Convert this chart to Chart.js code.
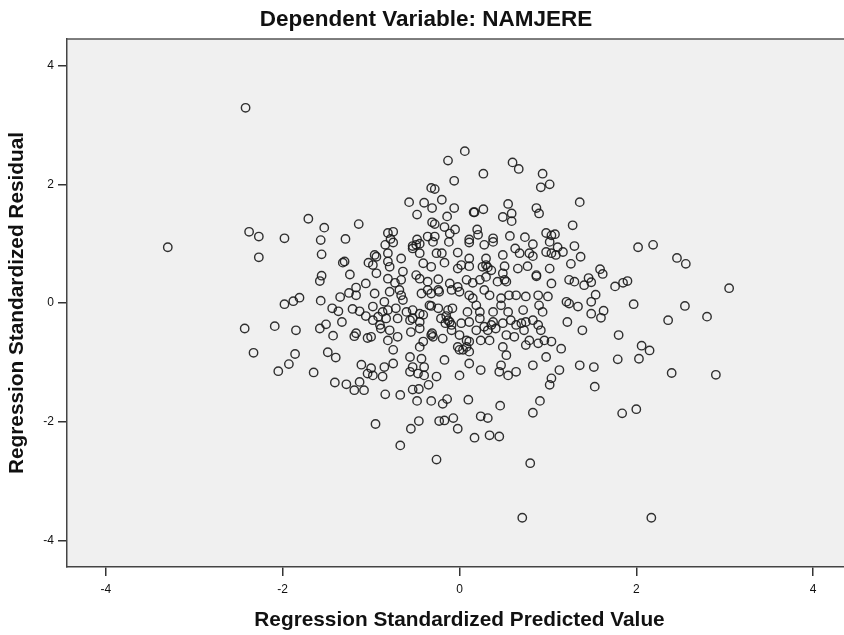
<!DOCTYPE html>
<html>
<head>
<meta charset="utf-8">
<script src="https://cdn.jsdelivr.net/npm/chart.js@4.4.1/dist/chart.umd.min.js"></script>
<style>
  html, body { margin: 0; padding: 0; background: #fff; overflow: hidden; }
  #wrap { width: 852px; height: 635px; }
</style>
</head>
<body>
<div id="wrap"><canvas id="scatter" width="852" height="635"></canvas></div>
<script>
// ============================== DATA ==============================
const chartTitle = "Dependent Variable: NAMJERE";
const xAxisLabel = "Regression Standardized Predicted Value";
const yAxisLabel = "Regression Standardized Residual";
const xTicks = [-4, -2, 0, 2, 4];
const yTicks = [-4, -2, 0, 2, 4];
const xRange = [-4.44, 4.44];
const yRange = [-4.45, 4.45];

// [standardized predicted, standardized residual]
const upperCases = [
    [-2.42, 3.29], [-1.71, 1.42], [-1.53, 1.27], [-1.14, 1.33], [-2.38, 1.20], [-2.27, 1.12],
    [-1.98, 1.09], [-1.57, 1.06], [-1.29, 1.08],
    [0.06, 2.56], [-0.13, 2.40], [0.60, 2.37], [0.67, 2.26], [0.27, 2.18], [0.94, 2.18],
    [1.02, 2.00], [0.92, 1.95], [-0.06, 2.06], [-0.32, 1.94], [-0.28, 1.92], [-0.20, 1.74],
    [-0.57, 1.70], [-0.40, 1.69], [-0.31, 1.60], [-0.06, 1.60], [-0.48, 1.49], [-0.14, 1.46],
    [0.16, 1.53], [0.17, 1.53], [0.27, 1.58], [0.55, 1.67], [0.59, 1.51], [0.49, 1.45],
    [0.59, 1.38], [0.87, 1.60], [0.90, 1.51], [1.36, 1.70], [1.28, 1.31], [-0.31, 1.36],
    [-0.28, 1.33], [-0.17, 1.28], [-0.05, 1.24], [-0.81, 1.18], [-0.75, 1.20], [0.20, 1.24],
    [0.98, 1.18], [1.04, 1.14], [1.08, 1.16], [-0.36, 1.12], [-0.28, 1.12], [-0.11, 1.17],
    [0.21, 1.15], [-0.48, 1.07], [0.11, 1.07], [0.38, 1.09], [0.57, 1.13], [0.74, 1.11],
    [-0.78, 1.08]
];

const leftCases = [
    [-3.30, 0.94], [-2.27, 0.77], [-1.56, 0.82], [-1.32, 0.68], [-1.30, 0.70], [-1.03, 0.68],
    [-1.24, 0.48], [-1.56, 0.46], [-1.58, 0.37], [-1.06, 0.33], [-1.17, 0.26], [-1.25, 0.17],
    [-1.17, 0.13], [-1.35, 0.10], [-1.81, 0.09], [-1.88, 0.03], [-1.98, -0.02], [-1.57, 0.04],
    [-1.44, -0.09], [-1.37, -0.14], [-1.21, -0.10], [-1.13, -0.14], [-1.06, -0.22], [-1.33, -0.32],
    [-1.51, -0.36], [-1.58, -0.43], [-2.43, -0.43], [-2.09, -0.39], [-1.85, -0.46], [-1.43, -0.55],
    [-1.19, -0.56], [-1.17, -0.51], [-1.04, -0.59], [-2.33, -0.84], [-1.86, -0.86], [-1.49, -0.83],
    [-1.40, -0.92], [-1.93, -1.03], [-2.05, -1.15], [-1.65, -1.17], [-1.11, -1.04], [-1.04, -1.19],
    [-1.41, -1.34], [-1.28, -1.37], [-1.13, -1.33], [-1.19, -1.47], [-1.08, -1.47]
];

const centralCases = [
    [-0.84, 0.98], [-0.75, 1.02], [-0.53, 0.96], [-0.49, 0.98], [-0.45, 1.00], [-0.30, 1.03],
    [-0.12, 1.03], [0.11, 1.02], [0.28, 0.98], [0.38, 1.03], [0.63, 0.92], [0.83, 0.99],
    [1.02, 1.03], [1.11, 0.94], [1.30, 0.96], [-0.53, 0.92],
    [-0.94, 0.78], [-0.81, 0.84], [-0.66, 0.75], [-0.45, 0.84], [-0.26, 0.84], [-0.20, 0.84],
    [-0.02, 0.85], [0.11, 0.75], [0.30, 0.75], [0.49, 0.81], [0.79, 0.84], [0.83, 0.79],
    [0.98, 0.86], [1.04, 0.84], [1.17, 0.86], [1.37, 0.78], [-0.96, 0.81], [0.68, 0.84],
    [1.09, 0.81],
    [-0.98, 0.64], [-0.81, 0.70], [-0.79, 0.61], [-0.64, 0.53], [-0.41, 0.67], [-0.32, 0.61],
    [-0.17, 0.68], [-0.02, 0.58], [0.02, 0.64], [0.11, 0.62], [0.26, 0.61], [0.32, 0.60],
    [0.36, 0.55], [0.51, 0.62], [0.66, 0.58], [0.77, 0.62], [1.02, 0.58], [1.26, 0.66],
    [0.30, 0.64],
    [-0.94, 0.50], [-0.81, 0.41], [-0.73, 0.34], [-0.66, 0.39], [-0.49, 0.47], [-0.45, 0.41],
    [-0.36, 0.36], [-0.24, 0.40], [-0.11, 0.33], [-0.02, 0.27], [0.08, 0.39], [0.15, 0.34],
    [0.23, 0.39], [0.30, 0.44], [0.43, 0.36], [0.53, 0.36], [0.49, 0.50], [0.87, 0.47],
    [1.04, 0.33], [1.24, 0.39], [1.30, 0.36], [1.41, 0.30], [0.51, 0.39], [0.87, 0.45],
    [-0.96, 0.16], [-0.79, 0.19], [-0.68, 0.22], [-0.64, 0.05], [-0.43, 0.16], [-0.36, 0.22],
    [-0.32, 0.16], [-0.23, 0.19], [-0.09, 0.22], [0.00, 0.19], [0.11, 0.13], [0.15, 0.08],
    [0.28, 0.22], [0.34, 0.13], [0.47, 0.08], [0.56, 0.13], [0.64, 0.13], [0.75, 0.11],
    [0.89, 0.13], [1.00, 0.11], [1.21, 0.02], [1.24, -0.01], [1.34, -0.06], [-0.66, 0.13],
    [-0.24, 0.22],
    [-0.98, -0.06], [-0.85, 0.02], [-0.81, -0.12], [-0.87, -0.15], [-0.72, -0.09], [-0.60, -0.15],
    [-0.53, -0.12], [-0.45, -0.18], [-0.34, -0.04], [-0.24, -0.09], [-0.13, -0.12], [-0.08, -0.09],
    [0.09, -0.15], [0.19, -0.04], [0.38, -0.15], [0.47, -0.04], [0.55, -0.15], [0.72, -0.12],
    [0.90, -0.04], [0.94, -0.15], [-0.32, -0.05], [0.23, -0.15],
    [-0.98, -0.29], [-0.90, -0.37], [-0.83, -0.26], [-0.70, -0.26], [-0.56, -0.29], [-0.45, -0.32],
    [-0.41, -0.20], [-0.21, -0.26], [-0.13, -0.29], [-0.09, -0.37], [0.02, -0.34], [0.11, -0.32],
    [0.23, -0.26], [0.28, -0.40], [0.38, -0.32], [0.49, -0.34], [0.58, -0.29], [0.64, -0.37],
    [0.75, -0.32], [0.83, -0.29], [0.89, -0.37], [1.22, -0.32], [-0.15, -0.22], [-0.11, -0.32],
    [-0.16, -0.34], [-0.92, -0.23], [-0.89, -0.43], [0.36, -0.37], [0.70, -0.34], [-0.53, -0.26],
    [-1.00, -0.57], [-0.79, -0.46], [-0.70, -0.57], [-0.55, -0.49], [-0.45, -0.43], [-0.32, -0.54],
    [-0.30, -0.57], [-0.19, -0.60], [-0.09, -0.46], [0.00, -0.54], [0.08, -0.63], [0.19, -0.46],
    [0.32, -0.46], [0.41, -0.43], [0.53, -0.54], [0.62, -0.57], [0.73, -0.46], [0.79, -0.63],
    [0.92, -0.46], [0.96, -0.63], [1.39, -0.46], [-0.31, -0.51],
    [-0.81, -0.63], [-0.75, -0.79], [-0.45, -0.74], [-0.41, -0.65], [-0.02, -0.74], [0.04, -0.79],
    [0.11, -0.65], [0.24, -0.63], [0.34, -0.63], [0.49, -0.74], [0.53, -0.88], [0.75, -0.71],
    [0.89, -0.68], [1.04, -0.65], [1.15, -0.77], [0.08, -0.74], [0.11, -0.82], [0.00, -0.79],
    [-1.00, -1.10], [-0.85, -1.08], [-0.75, -1.02], [-0.56, -0.91], [-0.53, -1.08], [-0.43, -0.94],
    [-0.40, -1.08], [-0.17, -0.96], [0.11, -1.02], [0.24, -1.13], [0.47, -1.05], [0.64, -1.16],
    [0.83, -1.05], [0.98, -0.91], [1.13, -1.13], [1.36, -1.05],
    [-0.98, -1.22], [-0.87, -1.24], [-0.56, -1.16], [-0.47, -1.19], [-0.40, -1.22], [-0.26, -1.24],
    [0.00, -1.22], [0.45, -1.16], [0.55, -1.22], [1.04, -1.27], [1.02, -1.38]
];

const lowerCases = [
    [-0.84, -1.54], [-0.67, -1.55], [-0.53, -1.46], [-0.46, -1.45], [-0.35, -1.38], [-0.48, -1.65],
    [-0.32, -1.65], [-0.19, -1.70], [-0.14, -1.62], [0.10, -1.63], [-0.95, -2.04], [-0.55, -2.12],
    [-0.46, -1.99], [-0.23, -1.99], [-0.17, -1.98], [-0.07, -1.94], [-0.02, -2.12], [-0.67, -2.40],
    [-0.26, -2.64], [0.24, -1.91], [0.32, -1.94], [0.46, -1.73], [0.17, -2.27], [0.34, -2.23],
    [0.45, -2.25], [0.91, -1.65], [0.83, -1.85], [0.80, -2.70], [0.71, -3.62],
    [1.53, -1.41], [1.84, -1.86], [2.00, -1.79], [2.17, -3.62]
];

const rightCases = [
    [2.02, 0.94], [2.19, 0.98], [2.46, 0.76], [2.56, 0.66], [1.59, 0.57], [1.62, 0.49],
    [1.49, 0.35], [1.46, 0.42], [1.76, 0.28], [1.85, 0.34], [1.90, 0.37], [1.54, 0.14],
    [1.49, 0.02], [1.97, -0.02], [3.05, 0.25], [2.55, -0.05], [1.63, -0.13], [1.60, -0.25],
    [1.49, -0.18], [2.36, -0.29], [2.80, -0.23], [1.80, -0.54], [2.06, -0.72], [2.15, -0.80],
    [1.79, -0.95], [2.03, -0.94], [1.52, -1.08], [2.40, -1.18], [2.90, -1.21]
];

// ============================== CHART ==============================
const fontFamily = '"Liberation Sans", Arial, Helvetica, sans-serif';

// grey plot area and its top edge
const plotFrame = {
    id: 'plotFrame',
    beforeDraw(chart) {
        const { ctx, chartArea: a } = chart;
        ctx.save();
        ctx.fillStyle = '#f0f0f0';
        ctx.fillRect(a.left, a.top, a.right - a.left, a.bottom - a.top);
        ctx.restore();
    },
    afterDraw(chart) {
        const { ctx, chartArea: a } = chart;
        ctx.save();
        ctx.strokeStyle = '#555';
        ctx.lineWidth = 1.5;
        ctx.beginPath();
        ctx.moveTo(a.left, a.top);
        ctx.lineTo(a.right, a.top);
        ctx.stroke();
        ctx.restore();
    }
};

function toXY(list) {
    return list.map(p => ({ x: p[0], y: p[1] }));
}

const allCases = [].concat(upperCases, leftCases, centralCases, lowerCases, rightCases);

new Chart(document.getElementById('scatter'), {
    type: 'scatter',
    data: {
        datasets: [{
            data: toXY(allCases),
            pointStyle: 'circle',
            pointRadius: 4.2,
            pointBorderWidth: 1.4,
            borderColor: 'rgba(25,25,25,0.9)',
            backgroundColor: 'rgba(0,0,0,0)'
        }]
    },
    options: {
        responsive: false,
        animation: false,
        layout: { padding: 0, autoPadding: false },
        plugins: {
            legend: { display: false },
            tooltip: { enabled: false },
            title: {
                display: true,
                text: chartTitle,
                color: '#111',
                font: { family: fontFamily, size: 22.5, weight: 'bold' },
                padding: { top: 6, bottom: 6 }
            }
        },
        scales: {
            x: {
                type: 'linear',
                min: xRange[0],
                max: xRange[1],
                afterBuildTicks: s => { s.ticks = xTicks.map(v => ({ value: v })); },
                afterFit: s => {
                    s.height = 68;
                    s.paddingLeft = 0;
                    s.paddingRight = 0;
                },
                grid: { drawOnChartArea: false, drawTicks: true, tickLength: 9, color: '#333', lineWidth: 1.5 },
                border: { display: true, color: '#444', width: 1.5 },
                ticks: { color: '#111', padding: 6, maxRotation: 0, font: { family: fontFamily, size: 12 } },
                title: {
                    display: true,
                    text: xAxisLabel,
                    color: '#111',
                    font: { family: fontFamily, size: 20.8, weight: 'bold' },
                    padding: { top: 0, bottom: 2 }
                }
            },
            y: {
                type: 'linear',
                min: yRange[0],
                max: yRange[1],
                afterBuildTicks: s => { s.ticks = yTicks.map(v => ({ value: v })); },
                afterFit: s => {
                    s.width = 67;
                    s.paddingTop = 0;
                    s.paddingBottom = 0;
                },
                grid: { drawOnChartArea: false, drawTicks: true, tickLength: 9, color: '#333', lineWidth: 1.5 },
                border: { display: true, color: '#444', width: 1.5 },
                ticks: { color: '#111', padding: 4, font: { family: fontFamily, size: 12 } },
                title: {
                    display: true,
                    text: yAxisLabel,
                    color: '#111',
                    font: { family: fontFamily, size: 20.8, weight: 'bold' },
                    padding: { top: 5, bottom: 0 }
                }
            }
        }
    },
    plugins: [plotFrame]
});
</script>
</body>
</html>
